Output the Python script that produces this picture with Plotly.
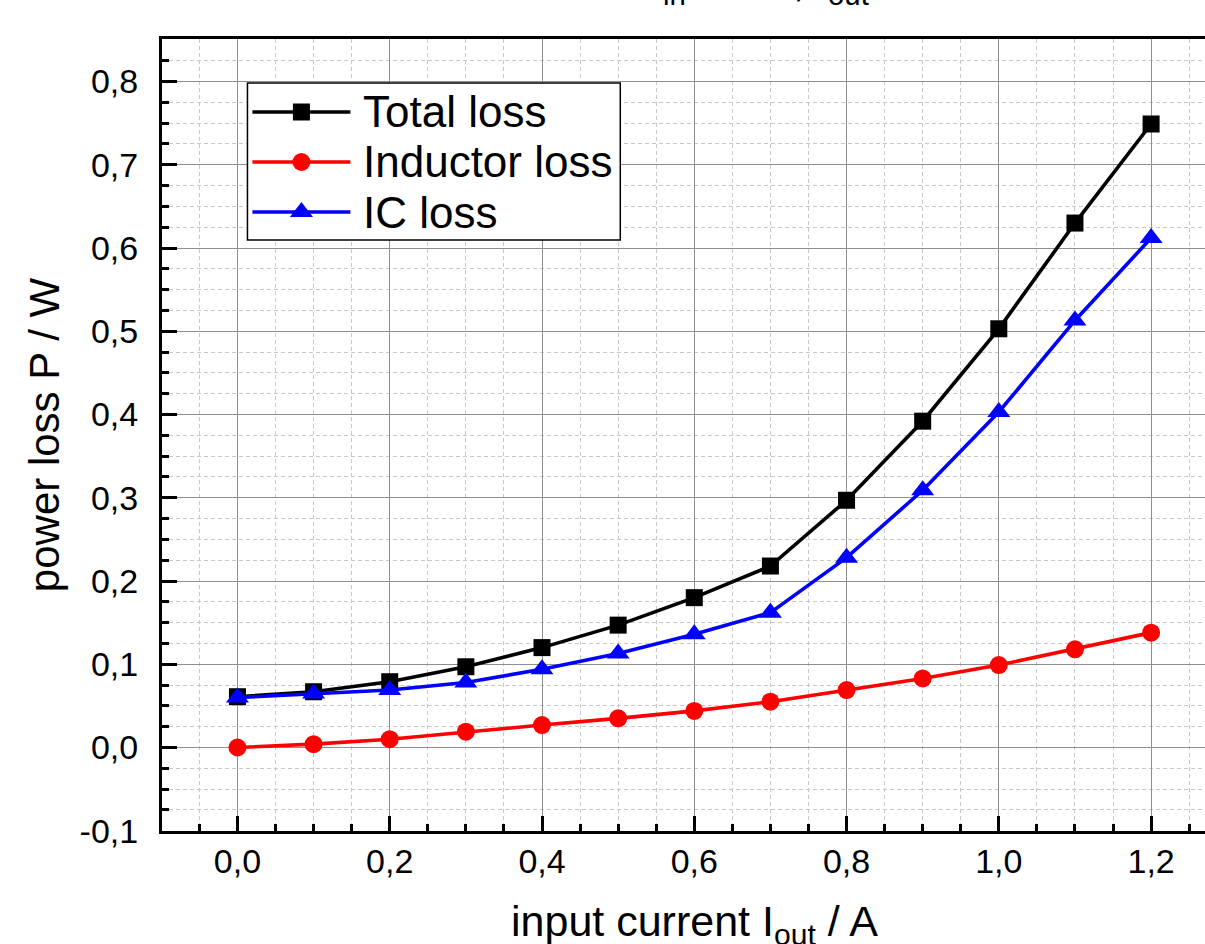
import plotly.graph_objects as go

# ---------------- data ----------------
current = [0.0, 0.1, 0.2, 0.3, 0.4, 0.5, 0.6, 0.7, 0.8, 0.9, 1.0, 1.1, 1.2]
total_loss = [0.061, 0.067, 0.079, 0.097, 0.120, 0.147, 0.180, 0.218, 0.297, 0.392, 0.503, 0.630, 0.749]
inductor_loss = [0.000, 0.004, 0.010, 0.019, 0.027, 0.035, 0.044, 0.055, 0.069, 0.083, 0.099, 0.118, 0.138]
ic_loss = [0.060, 0.065, 0.069, 0.078, 0.094, 0.113, 0.136, 0.162, 0.228, 0.309, 0.403, 0.513, 0.612]

series_names = ["Total loss", "Inductor loss", "IC loss"]
series_colors = ["#000000", "#ff0000", "#0000ff"]
series_symbols = ["square", "circle", "triangle-up"]
series_sizes = [17, 18, 20]

x_tickvals = [0.0, 0.2, 0.4, 0.6, 0.8, 1.0, 1.2]
x_ticktext = ["0,0", "0,2", "0,4", "0,6", "0,8", "1,0", "1,2"]
y_tickvals = [-0.1, 0.0, 0.1, 0.2, 0.3, 0.4, 0.5, 0.6, 0.7, 0.8]
y_ticktext = ["-0,1", "0,0", "0,1", "0,2", "0,3", "0,4", "0,5", "0,6", "0,7", "0,8"]

x_title = "input current I<sub>out</sub> / A"
y_title = "power loss P / W"
top_title = "V<sub>in</sub> = 5 V, I<sub>out</sub>"

FONT = "Liberation Sans, Arial, sans-serif"
W, H = 1205, 944
L, R, T, B = 161.5, 1205.0, 39.0, 831.0  # plot area in pixels
LW = 3.6


def px(xp):
    return (xp - L) / (R - L)


def py(yp):
    return (B - yp) / (B - T)


fig = go.Figure()
for name, yv, col, sym, sz in zip(series_names, [total_loss, inductor_loss, ic_loss],
                                  series_colors, series_symbols, series_sizes):
    fig.add_trace(go.Scatter(
        x=current, y=yv, mode="lines+markers", name=name,
        line=dict(color=col, width=LW),
        marker=dict(symbol=sym, size=sz, color=col, line=dict(width=0)),
        showlegend=False, cliponaxis=False,
    ))

fig.update_layout(
    width=W, height=H,
    margin=dict(l=L, r=W - R, t=T, b=H - B, pad=0),
    paper_bgcolor="white", plot_bgcolor="white",
    font=dict(family=FONT, color="black", size=34),
    showlegend=False,
)

fig.update_xaxes(
    range=[-0.0991, 1.2708],
    tickmode="array", tickvals=x_tickvals, ticktext=x_ticktext,
    ticks="inside", ticklen=15, tickwidth=3, tickcolor="black",
    showline=True, linewidth=3, linecolor="black", mirror=True,
    showgrid=True, gridcolor="#8f8f8f", gridwidth=1, zeroline=False,
    tickfont=dict(size=34, family=FONT, color="black"),
    ticklabelstandoff=-2,
    minor=dict(tickmode="linear", tick0=0, dtick=0.05, ticks="inside", ticklen=7,
               tickwidth=3, tickcolor="black", showgrid=True, gridcolor="#c8c8c8",
               gridwidth=1, griddash="4px,3px"),
)

fig.update_yaxes(
    range=[-0.1003, 0.8511],
    tickmode="array", tickvals=y_tickvals, ticktext=y_ticktext,
    ticks="inside", ticklen=15, tickwidth=3, tickcolor="black",
    showline=True, linewidth=3, linecolor="black", mirror=False,
    showgrid=True, gridcolor="#8f8f8f", gridwidth=1, zeroline=False,
    tickfont=dict(size=34, family=FONT, color="black"),
    ticklabelstandoff=14,
    minor=dict(tickmode="linear", tick0=0, dtick=0.025, ticks="inside", ticklen=7,
               tickwidth=3, tickcolor="black", showgrid=True, gridcolor="#c8c8c8",
               gridwidth=1, griddash="4px,3px"),
    title=dict(text=y_title, font=dict(size=42, family=FONT, color="black"), standoff=7),
)

# ---------------- manual legend ----------------
shapes = []
annotations = []
box = (247, 83, 620, 240)
shapes.append(dict(type="rect", xref="paper", yref="paper",
                   x0=px(box[0]), x1=px(box[2]), y0=py(box[3]), y1=py(box[1]),
                   fillcolor="white", line=dict(color="black", width=1.5), layer="above"))
rows = [112, 162, 212]
mx = 301
for name, col, sym, sz, ry in zip(series_names, series_colors, series_symbols, series_sizes, rows):
    shapes.append(dict(type="line", xref="paper", yref="paper",
                       x0=px(252), x1=px(350), y0=py(ry), y1=py(ry),
                       line=dict(color=col, width=LW), layer="above"))
    if sym == "square":
        h = sz / 2
        shapes.append(dict(type="rect", xref="paper", yref="paper",
                           x0=px(mx - h), x1=px(mx + h), y0=py(ry + h), y1=py(ry - h),
                           fillcolor=col, line=dict(width=0), layer="above"))
    elif sym == "circle":
        h = sz / 2
        shapes.append(dict(type="circle", xref="paper", yref="paper",
                           x0=px(mx - h), x1=px(mx + h), y0=py(ry + h), y1=py(ry - h),
                           fillcolor=col, line=dict(width=0), layer="above"))
    else:
        r = sz / 2
        rt = r * 2 / (3 ** 0.5)
        r2 = r / 2
        pts = [(mx - rt, ry + r2), (mx + rt, ry + r2), (mx, ry - r)]
        path = "M{},{} L{},{} L{},{} Z".format(px(pts[0][0]), py(pts[0][1]),
                                                px(pts[1][0]), py(pts[1][1]),
                                                px(pts[2][0]), py(pts[2][1]))
        shapes.append(dict(type="path", xref="paper", yref="paper", path=path,
                           fillcolor=col, line=dict(width=0), layer="above"))
    annotations.append(dict(text=name, xref="paper", yref="paper", x=px(361), y=py(ry),
                            xanchor="left", yanchor="middle", showarrow=False,
                            font=dict(size=44, family=FONT, color="black")))

# x-axis title (placed to match the reference, whose plot extends beyond the crop)
annotations.append(dict(text=x_title, xref="paper", yref="paper", x=px(694), y=py(895),
                        xanchor="center", yanchor="top", showarrow=False,
                        font=dict(size=43, family=FONT, color="black")))

# cut-off heading at the very top
annotations.append(dict(text=top_title, xref="paper", yref="paper", x=px(633), y=py(13),
                        xanchor="left", yanchor="bottom", showarrow=False,
                        font=dict(size=42, family=FONT, color="black")))

fig.update_layout(shapes=shapes, annotations=annotations)

fig.write_html("out.html", config={"displayModeBar": False},
               post_script="document.body.style.margin='0';document.body.style.overflow='hidden';")
